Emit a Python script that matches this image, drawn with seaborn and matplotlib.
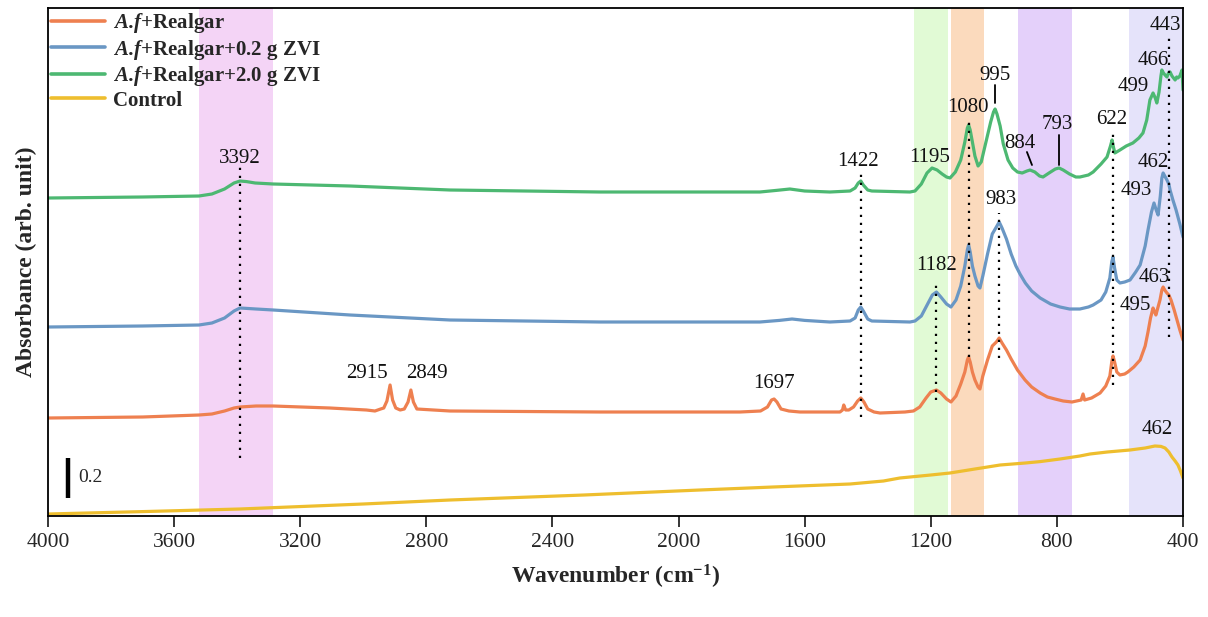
import numpy as np
import pandas as pd
import matplotlib
matplotlib.use("Agg")
import matplotlib.pyplot as plt
import seaborn as sns

# ---------------- spectra (wavenumber in cm-1, stacked absorbance) ----------------
control_wn = [4000, 3700, 3391, 3000, 2725, 2300, 1932, 1700, 1456, 1350, 1298,
              1200, 1139, 1060, 980, 900, 853, 790, 727, 695, 640, 568, 520,
              489, 470, 457, 445, 435, 425, 416, 408, 400]
control_abs = [0.010, 0.022, 0.035, 0.060, 0.080, 0.105, 0.130, 0.145, 0.160,
               0.175, 0.190, 0.205, 0.215, 0.235, 0.255, 0.265, 0.272, 0.285,
               0.300, 0.310, 0.320, 0.330, 0.340, 0.350, 0.348, 0.340, 0.320,
               0.295, 0.275, 0.255, 0.225, 0.190]

realgar_wn = [4000, 3700, 3521, 3480, 3440, 3410, 3391, 3340, 3286, 3106, 2990,
              2963, 2945, 2935, 2925, 2915, 2907, 2897, 2883, 2870, 2858, 2849,
              2841, 2830, 2725, 2249, 1805, 1740, 1718, 1705, 1697, 1688, 1675,
              1650, 1615, 1488, 1480, 1476, 1470, 1460, 1445, 1432, 1422, 1412,
              1400, 1380, 1361, 1282, 1255, 1235, 1215, 1200, 1182, 1168, 1150,
              1136, 1120, 1105, 1092, 1084, 1080, 1075, 1068, 1060, 1050, 1044,
              1035, 1020, 1005, 992, 983, 974, 960, 945, 925, 901, 880, 853, 830,
              806, 780, 752, 723, 717, 712, 690, 663, 645, 632, 626, 622, 617,
              610, 600, 585, 575, 556, 536, 520, 511, 503, 495, 490, 486, 480,
              473, 467, 463, 458, 451, 445, 438, 428, 419, 410, 400]
realgar_abs = [0.490, 0.495, 0.505, 0.510, 0.525, 0.540, 0.545, 0.550, 0.550,
               0.540, 0.530, 0.525, 0.535, 0.540, 0.575, 0.655, 0.580, 0.540,
               0.530, 0.535, 0.570, 0.630, 0.570, 0.535, 0.525, 0.520, 0.520,
               0.525, 0.545, 0.580, 0.585, 0.570, 0.535, 0.525, 0.520, 0.520,
               0.530, 0.555, 0.530, 0.530, 0.545, 0.575, 0.590, 0.570, 0.535,
               0.520, 0.515, 0.520, 0.525, 0.545, 0.590, 0.620, 0.630, 0.615,
               0.585, 0.570, 0.600, 0.660, 0.720, 0.780, 0.795, 0.770, 0.720,
               0.680, 0.645, 0.635, 0.700, 0.780, 0.850, 0.870, 0.890, 0.865,
               0.830, 0.785, 0.730, 0.680, 0.645, 0.615, 0.595, 0.585, 0.575,
               0.570, 0.580, 0.610, 0.580, 0.590, 0.615, 0.650, 0.700, 0.770,
               0.800, 0.770, 0.720, 0.705, 0.710, 0.720, 0.745, 0.780, 0.850,
               0.920, 0.990, 1.040, 1.020, 1.005, 1.040, 1.080, 1.130, 1.145,
               1.130, 1.115, 1.105, 1.080, 1.030, 0.980, 0.930, 0.880]

zvi02_wn = [4000, 3700, 3521, 3480, 3440, 3410, 3391, 3340, 3286, 3042, 2725,
            2249, 1742, 1680, 1640, 1600, 1520, 1456, 1440, 1430, 1422, 1414,
            1400, 1387, 1266, 1250, 1230, 1210, 1195, 1182, 1168, 1150, 1136,
            1120, 1105, 1092, 1084, 1080, 1075, 1068, 1060, 1050, 1044, 1035,
            1020, 1005, 992, 983, 974, 960, 945, 930, 917, 900, 880, 853, 820,
            790, 760, 727, 700, 685, 660, 645, 632, 626, 622, 617, 610, 600,
            585, 568, 550, 536, 520, 511, 500, 492, 485, 479, 472, 467, 463,
            458, 451, 445, 441, 432, 422, 410, 400]
zvi02_abs = [0.945, 0.950, 0.955, 0.965, 0.990, 1.025, 1.040, 1.035, 1.030,
             1.005, 0.980, 0.970, 0.970, 0.978, 0.985, 0.978, 0.970, 0.975,
             0.990, 1.030, 1.045, 1.025, 0.985, 0.975, 0.970, 0.975, 1.000,
             1.060, 1.105, 1.120, 1.095, 1.060, 1.045, 1.080, 1.150, 1.250,
             1.330, 1.355, 1.320, 1.250, 1.200, 1.150, 1.140, 1.200, 1.310,
             1.410, 1.445, 1.470, 1.440, 1.385, 1.310, 1.250, 1.210, 1.165,
             1.125, 1.090, 1.060, 1.045, 1.035, 1.035, 1.045, 1.055, 1.080,
             1.120, 1.190, 1.270, 1.295, 1.240, 1.180, 1.165, 1.170, 1.180,
             1.220, 1.255, 1.350, 1.430, 1.520, 1.565, 1.530, 1.505, 1.600,
             1.690, 1.715, 1.700, 1.680, 1.660, 1.630, 1.580, 1.530, 1.460,
             1.395]

zvi20_wn = [4000, 3700, 3521, 3480, 3440, 3410, 3391, 3370, 3343, 3286, 3042,
            2725, 2249, 1742, 1690, 1647, 1600, 1520, 1456, 1440, 1430, 1422,
            1414, 1400, 1387, 1266, 1250, 1230, 1212, 1196, 1180, 1164, 1150,
            1139, 1122, 1105, 1092, 1084, 1080, 1075, 1068, 1060, 1050, 1040,
            1025, 1010, 1001, 996, 990, 980, 970, 955, 940, 925, 910, 895, 885,
            870, 855, 844, 825, 805, 793, 780, 760, 740, 727, 700, 685, 660,
            641, 630, 625, 620, 616, 600, 580, 559, 540, 527, 515, 505, 495,
            488, 483, 476, 470, 467, 462, 457, 451, 446, 441, 435, 430, 425,
            420, 416, 410, 403, 400]
zvi20_abs = [1.590, 1.595, 1.600, 1.610, 1.635, 1.665, 1.675, 1.672, 1.665,
             1.660, 1.650, 1.630, 1.620, 1.620, 1.628, 1.635, 1.625, 1.620,
             1.625, 1.640, 1.665, 1.675, 1.655, 1.630, 1.625, 1.620, 1.625,
             1.660, 1.715, 1.740, 1.730, 1.710, 1.695, 1.690, 1.720, 1.780,
             1.870, 1.940, 1.955, 1.930, 1.870, 1.800, 1.750, 1.770, 1.870,
             1.970, 2.020, 2.035, 2.010, 1.950, 1.860, 1.780, 1.740, 1.720,
             1.715, 1.725, 1.730, 1.720, 1.700, 1.695, 1.715, 1.735, 1.740,
             1.730, 1.710, 1.695, 1.695, 1.705, 1.720, 1.760, 1.795, 1.850,
             1.880, 1.840, 1.815, 1.830, 1.850, 1.865, 1.890, 1.915, 1.980,
             2.080, 2.115, 2.090, 2.065, 2.120, 2.200, 2.230, 2.215, 2.205,
             2.195, 2.215, 2.220, 2.200, 2.190, 2.180, 2.195, 2.190, 2.200,
             2.230, 2.130]

series_names = [r"$\mathbfit{A.\!f}$+Realgar",
                r"$\mathbfit{A.\!f}$+Realgar+0.2 g ZVI",
                r"$\mathbfit{A.\!f}$+Realgar+2.0 g ZVI",
                "Control"]
series_colors = ["#EE8050", "#6A97C4", "#4DB872", "#EEBE2E"]

# shaded assignment regions (cm-1)
bands = [(3521, 3286, "#F4D4F6"), (1253, 1145, "#E1FAD5"),
         (1136, 1031, "#FBDABD"), (923, 752, "#E4D0FA"), (571, 400, "#E5E3FA")]

# peak labels: text, x, y
peak_labels = [("3392", 3392, 1.79), ("2915", 2988, 0.715), ("2849", 2798, 0.715),
               ("1697", 1697, 0.665), ("1422", 1431, 1.775), ("1195", 1203, 1.795),
               ("1080", 1082, 2.045), ("995", 995, 2.205), ("884", 918, 1.865),
               ("793", 800, 1.96), ("622", 625, 1.985), ("499", 557, 2.15),
               ("466", 495, 2.28), ("443", 457, 2.455), ("983", 977, 1.585),
               ("462", 495, 1.77), ("493", 549, 1.63), ("1182", 1182, 1.255),
               ("463", 490, 1.195), ("495", 552, 1.055), ("462", 482, 0.43)]

# dotted guides: x, y_top, y_bottom
dotted_guides = [(3392, 1.745, 0.29), (1422, 1.73, 0.495), (1182, 1.17, 0.58),
                 (1080, 1.99, 0.795), (983, 1.515, 0.79), (622, 1.92, 0.655),
                 (443, 2.415, 0.895)]

# short solid leaders: x0, y0, x1, y1
leaders = [(995, 2.155, 995, 2.065), (895, 1.82, 879, 1.755), (793, 1.905, 793, 1.755)]

scale_bar = 0.2

# ---------------- styling ----------------
sns.set_theme(style="ticks")
plt.rcParams["font.family"] = ["Liberation Serif", "DejaVu Serif"]
plt.rcParams["mathtext.fontset"] = "custom"
plt.rcParams["mathtext.rm"] = "Liberation Serif"
plt.rcParams["mathtext.it"] = "Liberation Serif:italic"
plt.rcParams["mathtext.bf"] = "Liberation Serif:bold"
plt.rcParams["mathtext.bfit"] = "Liberation Serif:bold:italic"

frames = []
for name, wn, ab in zip(series_names,
                        [realgar_wn, zvi02_wn, zvi20_wn, control_wn],
                        [realgar_abs, zvi02_abs, zvi20_abs, control_abs]):
    frames.append(pd.DataFrame({"wn": wn, "abs": ab, "sample": name}))
df = pd.concat(frames, ignore_index=True)

W, H = 1208, 617
fig = plt.figure(figsize=(W / 100, H / 100), dpi=100)
ax = fig.add_axes([48 / W, 1 - 516 / H, 1135 / W, 508 / H])

for x0, x1, c in bands:
    ax.axvspan(x1, x0, color=c, lw=0, zorder=0)

for x, y0, y1 in dotted_guides:
    ax.plot([x, x], [y1, y0], color="black", ls=(0, (1, 2.6)), lw=1.6, zorder=3)
for x0, y0, x1, y1 in leaders:
    ax.plot([x0, x1], [y0, y1], color="black", lw=1.3, zorder=3)

sns.lineplot(data=df, x="wn", y="abs", hue="sample", hue_order=series_names,
             palette=dict(zip(series_names, series_colors)), sort=False,
             estimator=None, lw=2.3, ax=ax, zorder=2)

for txt, x, y in peak_labels:
    ax.text(x, y, txt, ha="center", va="center", fontsize=15, color="#111111", zorder=4)

# 0.2 absorbance scale bar
ax.plot([3935, 3935], [0.09, 0.09 + scale_bar], color="black", lw=3.2, solid_capstyle="butt")
ax.text(3905, 0.19, "0.2", ha="left", va="center", fontsize=14)

ax.set_xlim(4000, 400)
ax.set_ylim(0, 2.54)
ax.set_xticks(np.arange(4000, 399, -400))
ax.set_yticks([])
ax.tick_params(axis="x", direction="out", length=8, width=1.3, labelsize=15.5, pad=4)
for s in ax.spines.values():
    s.set_linewidth(1.3)
    s.set_color("black")

ax.set_xlabel(r"Wavenumber (cm$^{\mathbf{-1}}$)", fontsize=17, fontweight="bold", labelpad=8)
ax.set_ylabel("Absorbance (arb. unit)", fontsize=17, fontweight="bold", labelpad=8)

handles, labels = ax.get_legend_handles_labels()
leg = ax.legend(handles, labels, loc="upper left", frameon=False,
                prop={"weight": "bold", "size": 15}, borderaxespad=0.05,
                borderpad=0.1, handlelength=2.6, handletextpad=0.35,
                labelspacing=0.12)
for line in leg.get_lines():
    line.set_linewidth(2.6)

fig.savefig("out.png", dpi=100)
